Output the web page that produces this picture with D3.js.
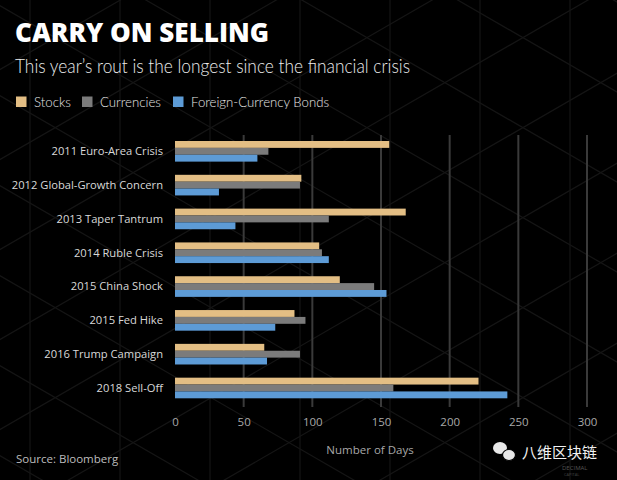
<!DOCTYPE html>
<html><head><meta charset="utf-8">
<script src="https://cdn.jsdelivr.net/npm/d3@7"></script>
<style>
html,body{margin:0;padding:0;background:#000;}
svg{display:block;}
</style></head>
<body>
<svg id="chart" width="617" height="480"></svg>
<script>
const categories = ["2011 Euro-Area Crisis","2012 Global-Growth Concern","2013 Taper Tantrum","2014 Ruble Crisis","2015 China Shock","2015 Fed Hike","2016 Trump Campaign","2018 Sell-Off"];
const seriesNames = ["Stocks","Currencies","Foreign-Currency Bonds"];
const stocks     = [156, 92, 168, 105, 120, 87, 65, 221];
const currencies = [68, 91, 112, 107, 145, 95, 91, 159];
const bonds      = [60, 32, 44, 112, 154, 73, 67, 242];
const tickValues = [0, 50, 100, 150, 200, 250, 300];
const colors = ["#e3be84", "#7b7b7b", "#5d9bd6"];

const svg = d3.select("#chart");
const W = 617, H = 480;
svg.append("rect").attr("width", W).attr("height", H).attr("fill", "#000");

// faint isometric background pattern
const bg = svg.append("g").attr("stroke", "#151515").attr("stroke-width", 1.2).attr("fill", "none");
const side = 150;
const t30 = Math.tan(Math.PI / 6);
for (let i = -6; i < 14; i++) {
  const y0 = i * side * 0.6;
  bg.append("line").attr("x1", -10).attr("y1", y0).attr("x2", 640).attr("y2", y0 + 650 * t30);
  bg.append("line").attr("x1", -10).attr("y1", y0 + 650 * t30 - 300).attr("x2", 640).attr("y2", y0 - 300);
}
for (let i = 0; i < 7; i++) {
  const xv = 30 + i * side * 0.6;
  bg.append("line").attr("x1", xv).attr("y1", 0).attr("x2", xv).attr("y2", 480);
}

const x = d3.scaleLinear().domain([0, 300]).range([175, 587]);
const y = d3.scaleBand().domain(categories).range([141, 398.3]).paddingInner(0.39).paddingOuter(0);
const ySub = d3.scaleBand().domain(seriesNames).range([0, y.bandwidth()]).padding(0);

// grid
svg.append("g").selectAll("line").data(tickValues.filter(d => d > 0)).join("line")
  .attr("x1", d => x(d)).attr("x2", d => x(d))
  .attr("y1", 135).attr("y2", 407)
  .attr("stroke", "#3a3a3a").attr("stroke-width", 2);

const data = categories.map((c, i) => ({cat: c, vals: [stocks[i], currencies[i], bonds[i]]}));
const groups = svg.append("g").selectAll("g").data(data).join("g")
  .attr("transform", d => `translate(0,${y(d.cat)})`);
groups.selectAll("rect").data(d => d.vals.map((v, j) => ({v, s: seriesNames[j], j}))).join("rect")
  .attr("x", x(0)).attr("y", d => ySub(d.s))
  .attr("width", d => x(d.v) - x(0)).attr("height", ySub.bandwidth())
  .attr("fill", d => colors[d.j]);

// category labels
const yAxis = d3.axisLeft(y).tickSize(0).tickPadding(0);
const ya = svg.append("g").attr("transform", "translate(163,0)").call(yAxis);
ya.select(".domain").remove();
ya.selectAll("text").attr("fill", "#d9d9d9").attr("font-family", "'Open Sans', sans-serif").attr("font-size", 11.2).attr("dy", "0.35em").attr("dx", 0);

// x axis ticks
const xAxis = d3.axisBottom(x).tickValues(tickValues).tickSize(0).tickPadding(0);
const xa = svg.append("g").attr("transform", "translate(0,418)").call(xAxis);
xa.select(".domain").remove();
xa.selectAll("text").attr("fill", "#a8a8a8").attr("font-family", "'Open Sans', sans-serif").attr("font-size", 11.5).attr("dy", "0.71em");

svg.append("text").attr("x", 370).attr("y", 454).attr("text-anchor", "middle")
  .attr("fill", "#a8a8a8").attr("font-family", "'Open Sans', sans-serif").attr("font-size", 11.5)
  .text("Number of Days");

svg.append("text").attr("x", 16).attr("y", 463)
  .attr("fill", "#bdbdbd").attr("font-family", "'Open Sans', sans-serif").attr("font-size", 11.5)
  .text("Source: Bloomberg");

// title
svg.append("text").attr("x", 15).attr("y", 42)
  .attr("fill", "#fff").attr("font-family", "'Open Sans', sans-serif").attr("font-weight", 800).attr("font-size", 27)
  .attr("textLength", 254).attr("lengthAdjust", "spacingAndGlyphs")
  .text("CARRY ON SELLING");
svg.append("text").attr("x", 15).attr("y", 73)
  .attr("fill", "#ececec").attr("font-family", "Lato, sans-serif").attr("font-weight", 300).attr("font-size", 19)
  .attr("textLength", 395).attr("lengthAdjust", "spacingAndGlyphs")
  .text("This year’s rout is the longest since the financial crisis");

// legend
const legX = [16, 82, 173];
const legW = [37, 61, 138];
const leg = svg.append("g").selectAll("g").data(seriesNames).join("g")
  .attr("transform", (d, i) => `translate(${legX[i]},96.5)`);
leg.append("rect").attr("width", 10.5).attr("height", 10.5).attr("fill", (d, i) => colors[i]);
leg.append("text").attr("x", 18).attr("y", 10)
  .attr("fill", "#e6e6e6").attr("font-family", "Lato, sans-serif").attr("font-weight", 300).attr("font-size", 14.5)
  .attr("textLength", (d, i) => legW[i]).attr("lengthAdjust", "spacingAndGlyphs")
  .text(d => d);

// watermark
const wm = svg.append("g");
wm.append("ellipse").attr("cx", 500).attr("cy", 448).attr("rx", 7).attr("ry", 6).attr("fill", "#e8e8e8");
wm.append("ellipse").attr("cx", 509).attr("cy", 455).attr("rx", 6.5).attr("ry", 5.5).attr("fill", "#e8e8e8").attr("stroke", "#000").attr("stroke-width", 1.2);
wm.append("text").attr("x", 522).attr("y", 458)
  .attr("fill", "#f2f2f2").attr("font-family", "'Noto Sans CJK SC', sans-serif").attr("font-size", 15)
  .text("八维区块链");
wm.append("text").attr("x", 562).attr("y", 470).attr("fill", "#555").attr("font-family", "'Open Sans', sans-serif").attr("font-size", 6)
  .text("DECIMAL");
wm.append("text").attr("x", 564).attr("y", 476).attr("fill", "#444").attr("font-family", "'Open Sans', sans-serif").attr("font-size", 4)
  .text("CAPITAL");
</script>
</body></html>
